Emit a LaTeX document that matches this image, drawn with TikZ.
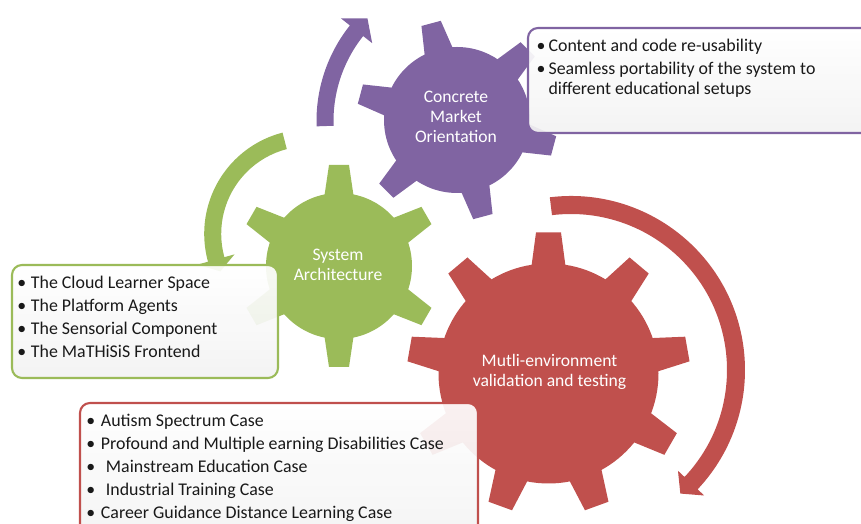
\documentclass[tikz,border=0pt]{standalone}
\usepackage{fontspec}
\setmainfont{Carlito}
\definecolor{gearpurple}{HTML}{8064A2}
\definecolor{geargreen}{HTML}{9BBB59}
\definecolor{gearred}{HTML}{C0504D}
\begin{document}
\begin{tikzpicture}[x=0.75pt,y=0.75pt,
  gearlabel/.style={text=white, align=center, inner sep=0pt,
    font=\fontsize{13.2}{14.8}\selectfont},
  infobox/.style={rounded corners=7.5pt, line width=1.6pt,
    top color=white, bottom color=black!5, fill opacity=0.92},
  item/.style={anchor=base west, inner sep=0pt, text=black!90,
    font=\fontsize{13.4}{16}\selectfont},
]
\useasboundingbox (0,0) rectangle (861,524);
\clip (0,0) rectangle (861,524);

% ---------- gears ----------
\begin{scope}[shift={(457,404)}]
  \fill[gearpurple] (0,0) circle[radius=73];
  \foreach \a in {45,105,...,345}
    \fill[gearpurple,rotate=\a] (66,-15.2) -- (100,-10) -- (100,10) -- (66,15.2) -- cycle;
\end{scope}
\begin{scope}[shift={(339,258)}]
  \fill[geargreen] (0,0) circle[radius=73];
  \foreach \a in {30,90,...,330}
    \fill[geargreen,rotate=\a] (66,-15.2) -- (101,-10) -- (101,10) -- (66,15.2) -- cycle;
\end{scope}
\begin{scope}[shift={(548.5,150.5)}]
  \fill[gearred] (0,0) circle[radius=110];
  \foreach \a in {10,50,...,330}
    \fill[gearred,rotate=\a] (103,-17.6) -- (141,-12.5) -- (141,12.5) -- (103,17.6) -- cycle;
\end{scope}

% ---------- circular arrows ----------
\begin{scope}[shift={(470,403)}]
  \fill[gearpurple] (182:153.5) arc[start angle=182, end angle=141.5, radius=153.5]
    -- (141.5:165) -- (135:145) -- (141.5:125) -- (141.5:136.5)
    arc[start angle=141.5, end angle=182, radius=136.5] -- cycle;
\end{scope}
\begin{scope}[shift={(308.7,290.2)}]
  \fill[geargreen] (104.5:104.5) arc[start angle=104.5, end angle=195.5, radius=104.5]
    -- (195.5:115.5) -- (203:96) -- (195.5:77) -- (195.5:87.5)
    arc[start angle=195.5, end angle=104.5, radius=87.5] -- cycle;
\end{scope}
\begin{scope}[shift={(571,154)}]
  \fill[gearred] (97:174) arc[start angle=97, end angle=-43.3, radius=174]
    -- (-43.3:183) -- (-48.5:165) -- (-43.3:147) -- (-43.3:156)
    arc[start angle=-43.3, end angle=97, radius=156] -- cycle;
\end{scope}

% ---------- gear labels ----------
\node[gearlabel] (cmo) at (456,407) {Concrete\\Market\\Orientation};
\node[gearlabel] (sa) at (338,259) {System\\Architecture};
\node[gearlabel] (mev) at (549.5,152) {Mutli-environment\\validation and testing};

% ---------- text boxes ----------
\draw[infobox, draw=gearpurple] (528,496) rectangle (880,391);
\draw[infobox, draw=geargreen] (12,259) rectangle (278,146);
\draw[infobox, draw=gearred] (80,121) rectangle (478,-20);

% ---------- box items ----------
\node[item] (p1) at (548.3,472) {\llap{•\hspace{2.2pt}}Content and code re-usability};
\node[item] (p2) at (548.3,449) {\llap{•\hspace{2.2pt}}Seamless portability of the system to};
\node[item] (p3) at (548.3,429) {different educational setups};

\node[item] (g1) at (30.7,235.5) {\llap{•\hspace{3.6pt}}The Cloud Learner Space};
\node[item] (g2) at (30.7,212.5) {\llap{•\hspace{3.6pt}}The Platform Agents};
\node[item] (g3) at (30.7,189.5) {\llap{•\hspace{3.6pt}}The Sensorial Component};
\node[item] (g4) at (30.7,166.5) {\llap{•\hspace{3.6pt}}The MaTHiSiS Frontend};

\node[item] (r1) at (100.7,97) {\llap{•\hspace{4.2pt}}Autism Spectrum Case};
\node[item] (r2) at (100.7,74) {\llap{•\hspace{4.2pt}}Profound and Multiple earning Disabilities Case};
\node[item] (r3) at (105.7,51) {\llap{•\hspace{8pt}}Mainstream Education Case};
\node[item] (r4) at (105.7,28) {\llap{•\hspace{8pt}}Industrial Training Case};
\node[item] (r5) at (100.7,5) {\llap{•\hspace{4.2pt}}Career Guidance Distance Learning Case};
\end{tikzpicture}
\end{document}
